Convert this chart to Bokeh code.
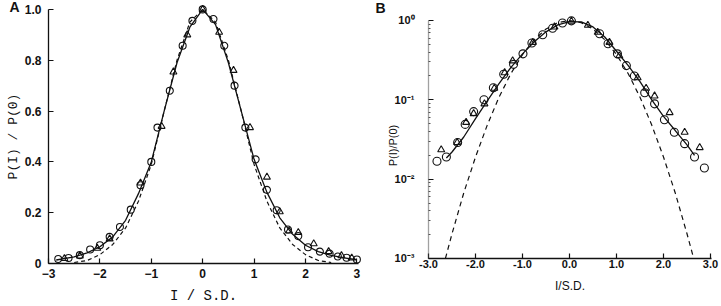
import math
from bokeh.plotting import figure
from bokeh.layouts import row
from bokeh.models import FixedTicker, Label, Range1d, PrintfTickFormatter
from bokeh.embed import file_html
from bokeh.resources import INLINE

# ---------------- Panel A (linear) ----------------
a_fit_x = [-2.85, -2.5, -2.25, -2.0, -1.75, -1.5, -1.25, -1.0, -0.75, -0.5, -0.25, 0.0,
           0.25, 0.5, 0.75, 1.0, 1.25, 1.5, 1.75, 2.0, 2.25, 2.5, 2.75, 3.0]
a_fit_y = [0.014, 0.026, 0.042, 0.066, 0.105, 0.17, 0.275, 0.40, 0.60, 0.79, 0.93, 1.0,
           0.94, 0.79, 0.60, 0.41, 0.28, 0.18, 0.115, 0.072, 0.047, 0.032, 0.022, 0.015]
a_gauss_x = [-2.5, -2.25, -2.0, -1.75, -1.5, -1.25, -1.0, -0.75, -0.5, -0.25, 0.0,
             0.25, 0.5, 0.75, 1.0, 1.25, 1.5, 1.75, 2.0, 2.25, 2.5]
a_gauss_y = [0.004, 0.012, 0.035, 0.075, 0.14, 0.245, 0.39, 0.60, 0.80, 0.95, 1.0,
             0.95, 0.80, 0.60, 0.39, 0.245, 0.14, 0.075, 0.035, 0.012, 0.004]
a_circ_x = [-2.81, -2.61, -2.39, -2.19, -2.0, -1.81, -1.61, -1.40, -1.21, -1.0, -0.88, -0.64,
            -0.39, -0.2, 0.0, 0.21, 0.42, 0.62, 0.83, 1.03, 1.25, 1.44, 1.66, 1.86, 2.05,
            2.28, 2.47, 2.63, 2.8, 3.0]
a_circ_y = [0.018, 0.022, 0.033, 0.055, 0.072, 0.105, 0.144, 0.212, 0.308, 0.40, 0.535, 0.68,
            0.857, 0.955, 1.0, 0.962, 0.857, 0.70, 0.535, 0.41, 0.29, 0.21, 0.134, 0.108, 0.064,
            0.047, 0.039, 0.028, 0.023, 0.016]
a_tri_x = [-2.69, -2.39, -2.05, -1.81, -1.21, -0.80, -0.57, -0.3, 0.0, 0.32, 0.6, 0.92,
           1.25, 1.5, 1.68, 1.86, 2.16, 2.45, 2.7, 2.9]
a_tri_y = [0.02, 0.03, 0.06, 0.097, 0.317, 0.54, 0.754, 0.90, 1.0, 0.91, 0.76, 0.535,
           0.34, 0.204, 0.128, 0.122, 0.078, 0.047, 0.031, 0.022]
a_xticks = [-3, -2, -1, 0, 1, 2, 3]
a_yticks = [0, 0.2, 0.4, 0.6, 0.8, 1.0]
a_ylabels = ["0", "0.2", "0.4", "0.6", "0.8", "1.0"]

# ---------------- Panel B (log) ----------------
b_fit_x = [-2.62, -2.5, -2.25, -2.0, -1.75, -1.5, -1.25, -1.0, -0.75, -0.5, -0.25, 0.0,
           0.25, 0.5, 0.75, 1.0, 1.25, 1.5, 1.75, 2.0, 2.25, 2.5, 2.66]
b_fit_y = [0.0185, 0.022, 0.034, 0.058, 0.097, 0.16, 0.255, 0.38, 0.54, 0.72, 0.88, 0.97,
           0.96, 0.83, 0.62, 0.41, 0.27, 0.17, 0.10, 0.062, 0.041, 0.027, 0.02]
b_gauss_x = [-2.64, -2.5, -2.25, -2.0, -1.75, -1.5, -1.25, -1.0, -0.75, -0.5, -0.25, 0.0,
             0.25, 0.5, 0.75, 1.0, 1.25, 1.5, 1.75, 2.0, 2.25, 2.5, 2.62]
b_gauss_y = [0.001, 0.00205, 0.0067, 0.019, 0.048, 0.108, 0.213, 0.372, 0.573, 0.78, 0.94, 1.0,
             0.94, 0.78, 0.573, 0.372, 0.213, 0.108, 0.048, 0.019, 0.0067, 0.00205, 0.00112]
b_circ_x = [-2.82, -2.62, -2.38, -2.22, -2.04, -1.82, -1.62, -1.40, -1.19, -0.99, -0.80, -0.57,
            -0.36, -0.15, 0.04, 0.64, 0.82, 1.02, 1.21, 1.38, 1.6, 1.81, 2.02, 2.23, 2.45,
            2.66, 2.87]
b_circ_y = [0.0168, 0.019, 0.029, 0.049, 0.071, 0.10, 0.142, 0.21, 0.28, 0.38, 0.52, 0.66,
            0.80, 0.93, 0.99, 0.68, 0.51, 0.38, 0.27, 0.20, 0.123, 0.089, 0.056, 0.039, 0.028,
            0.019, 0.0138]
b_tri_x = [-2.73, -2.39, -2.2, -2.04, -1.81, -1.6, -1.38, -1.21, -0.78, -0.32, 0.04, 0.39,
           0.60, 0.85, 1.06, 1.45, 1.63, 1.81, 2.13, 2.45, 2.77]
b_tri_y = [0.0235, 0.029, 0.052, 0.067, 0.089, 0.14, 0.22, 0.31, 0.53, 0.83, 0.98, 0.87,
           0.71, 0.53, 0.36, 0.19, 0.14, 0.112, 0.069, 0.039, 0.025]
b_xticks = [-3, -2, -1, 0, 1, 2, 3]
b_yticks = [0.001, 0.01, 0.1, 1.0]
b_ylabels = ["10\u207b\u00b3", "10\u207b\u00b2", "10\u207b\u00b9", "10\u2070"]
b_yminor = [m * d for d in (0.001, 0.01, 0.1) for m in range(2, 10)]

INK = "#111111"


def base_style(p):
    p.grid.visible = False
    p.outline_line_color = None
    p.background_fill_color = "white"
    p.border_fill_color = "white"
    p.min_border = 0
    for ax in (p.xaxis[0], p.yaxis[0]):
        ax.axis_line_color = INK
        ax.axis_line_width = 1.3
        ax.major_tick_line_color = INK
        ax.major_tick_line_width = 1.2
        ax.major_tick_in = 5
        ax.major_tick_out = 0
        ax.minor_tick_line_color = None
        ax.major_label_text_color = INK
        ax.axis_label_text_color = INK
        ax.axis_label_text_font_style = "normal"


# ---- Figure A ----
pA = figure(width=368, height=306, output_backend="svg", toolbar_location=None,
            x_range=Range1d(-3.934, 3.226), y_range=Range1d(-0.169, 1.035))
base_style(pA)
xa, ya = pA.xaxis[0], pA.yaxis[0]
xa.fixed_location = 0
xa.bounds = (-3, 3.035)
ya.fixed_location = -3
ya.bounds = (0, 1.0)
xa.ticker = FixedTicker(ticks=a_xticks)
ya.ticker = FixedTicker(ticks=a_yticks)
ya.major_label_overrides = dict(zip(a_yticks, a_ylabels))
for ax in (xa, ya):
    ax.major_label_text_font = "Liberation Sans"
    ax.major_label_text_font_style = "bold"
    ax.major_label_text_font_size = "12px"
    ax.axis_label_text_font = "Liberation Mono"
xa.major_label_standoff = 5
ya.major_label_standoff = 7
xa.axis_label = "I / S.D."
xa.axis_label_text_font_size = "14px"
xa.axis_label_standoff = 7
ya.axis_label = "P(I) / P(0)"
ya.axis_label_text_font_size = "13px"
ya.axis_label_standoff = 1

pA.line(a_gauss_x, a_gauss_y, line_color=INK, line_width=1.2, line_dash="4 3")
pA.line(a_fit_x, a_fit_y, line_color=INK, line_width=1.3)
pA.scatter(a_circ_x, a_circ_y, marker="circle", size=7, fill_color=None,
           line_color=INK, line_width=1.1)
pA.scatter(a_tri_x, a_tri_y, marker="triangle", size=7, fill_color=None,
           line_color=INK, line_width=1.1)
pA.add_layout(Label(x=-3.759, y=0.976, text="A",
                    text_font="Liberation Sans", text_font_style="bold",
                    text_font_size="14px", text_color=INK,
                    text_align="left", text_baseline="bottom"))

# ---- Figure B ----
pB = figure(width=353, height=306, output_backend="svg", toolbar_location=None,
            y_axis_type="log",
            x_range=Range1d(-4.277, 3.234), y_range=Range1d(2.48e-4, 1.787))
base_style(pB)
xb, yb = pB.xaxis[0], pB.yaxis[0]
xb.fixed_location = 1e-3
xb.bounds = (-3.0, 3.02)
yb.fixed_location = -3.0
yb.bounds = (1e-3, 1.0)
xb.ticker = FixedTicker(ticks=b_xticks)
xb.formatter = PrintfTickFormatter(format="%.1f")
yb.ticker = FixedTicker(ticks=b_yticks, minor_ticks=b_yminor)
yb.major_label_overrides = dict(zip(b_yticks, b_ylabels))
yb.minor_tick_line_color = "#555555"
yb.minor_tick_in = 2
yb.minor_tick_out = 0
yb.axis_line_color = "#444444"
yb.axis_line_dash = "1 1"
for ax in (xb, yb):
    ax.major_label_text_font = "Liberation Sans"
    ax.major_label_text_font_style = "bold"
    ax.major_label_text_font_size = "11px"
    ax.axis_label_text_font = "Liberation Sans"
xb.major_label_standoff = 2
yb.major_label_standoff = 14
xb.axis_label = "I/S.D."
xb.axis_label_text_font_size = "12px"
xb.axis_label_standoff = 7

pB.line(b_gauss_x, b_gauss_y, line_color=INK, line_width=1.2, line_dash="5 4")
pB.line(b_fit_x, b_fit_y, line_color=INK, line_width=1.3)
pB.scatter(b_circ_x, b_circ_y, marker="circle", size=8, fill_color=None,
           line_color=INK, line_width=1.1)
pB.scatter(b_tri_x, b_tri_y, marker="triangle", size=7, fill_color=None,
           line_color=INK, line_width=1.1)
pB.add_layout(Label(x=-3.766, y=0.02656, text="P(I)/P(0)",
                    angle=math.pi / 2, text_font="Liberation Sans",
                    text_font_size="11px", text_color=INK,
                    text_align="center", text_baseline="middle"))
pB.add_layout(Label(x=-4.128, y=1.156, text="B",
                    text_font="Liberation Sans", text_font_style="bold",
                    text_font_size="14px", text_color=INK,
                    text_align="left", text_baseline="bottom"))

layout = row(pA, pB)
open("out.html", "w").write(file_html(layout, INLINE))
